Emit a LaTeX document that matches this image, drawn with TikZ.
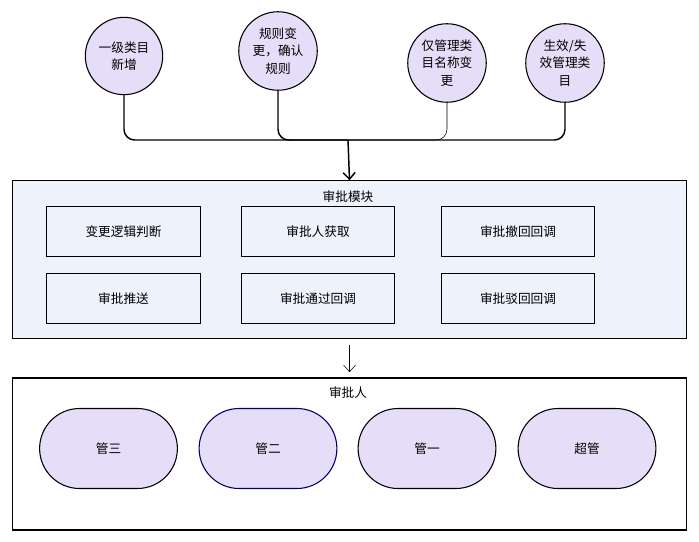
\documentclass[tikz,border=0pt]{standalone}
\usepackage{fontspec}
\setmainfont{Noto Sans CJK SC}
\usetikzlibrary{arrows.meta,shapes.geometric,shapes.misc}
\definecolor{lav}{HTML}{E6DEF8}
\definecolor{pale}{HTML}{EEF2FB}
\begin{document}
\begin{tikzpicture}[x=0.75pt,y=-0.75pt,>={Straight Barb[length=5pt,width=9pt]},font=\fontsize{9.5}{13}\selectfont]

	\tikzstyle{event}=[circle,draw=black,thick,fill=lav,minimum size=58pt,inner sep=1pt,align=center,text width=44pt]
	\tikzstyle{task}=[rectangle,draw=black,thick,minimum width=115pt,minimum height=37pt]
	\tikzstyle{role}=[rounded rectangle,draw=black,thick,fill=lav,minimum width=110pt,minimum height=60pt]
	\tikzstyle{frame}=[rectangle,draw=black,thick]

	\useasboundingbox (0,0) rectangle (699,542);

	% top events
	\node [event] (e1) at (124,56) {一级类目\\新增};
	\node [event] (e2) at (278,51) {规则变\\更，确认\\规则};
	\node [event] (e3) at (447,63) {仅管理类\\目名称变\\更};
	\node [event] (e4) at (565,63) {生效/失\\效管理类\\目};

	% approval module
	\node [frame,fill=pale,minimum width=505pt,minimum height=118pt] (mod) at (349.5,259.5) {};
	\node (modt) at (348,197) {审批模块};
	\node [task] (b1) at (123.5,231.5) {变更逻辑判断};
	\node [task] (b2) at (318,231.5) {审批人获取};
	\node [task] (b3) at (518,231.5) {审批撤回回调};
	\node [task] (b4) at (123.5,298.5) {审批推送};
	\node [task] (b5) at (318,298.5) {审批通过回调};
	\node [task] (b6) at (518,298.5) {审批驳回回调};

	% approvers
	\node [frame,minimum width=505pt,minimum height=114pt] (appr) at (349.5,454) {};
	\node (apprt) at (348,393) {审批人};
	\node [role] (r1) at (108.5,448.5) {管三};
	\node [role,draw=blue!40!black] (r2) at (268,448.5) {管二};
	\node [role] (r3) at (427,448.5) {管一};
	\node [role] (r4) at (587,448.5) {超管};

	\coordinate (m) at (348,140);
	\draw [line width=1.1pt,rounded corners=8pt] (e1.south) |- (m);
	\draw [line width=1.1pt,rounded corners=8pt] (e2.south) |- (m);
	\draw [rounded corners=8pt] (e3.south) |- (m);
	\draw [line width=1.1pt,rounded corners=8pt] (e4.south) |- (m);
	\draw [line width=1.1pt,->] (m) -- (mod.north);
	\draw [->] ([yshift=-5pt]mod.south) -- ([yshift=4pt]appr.north);
\end{tikzpicture}
\end{document}
